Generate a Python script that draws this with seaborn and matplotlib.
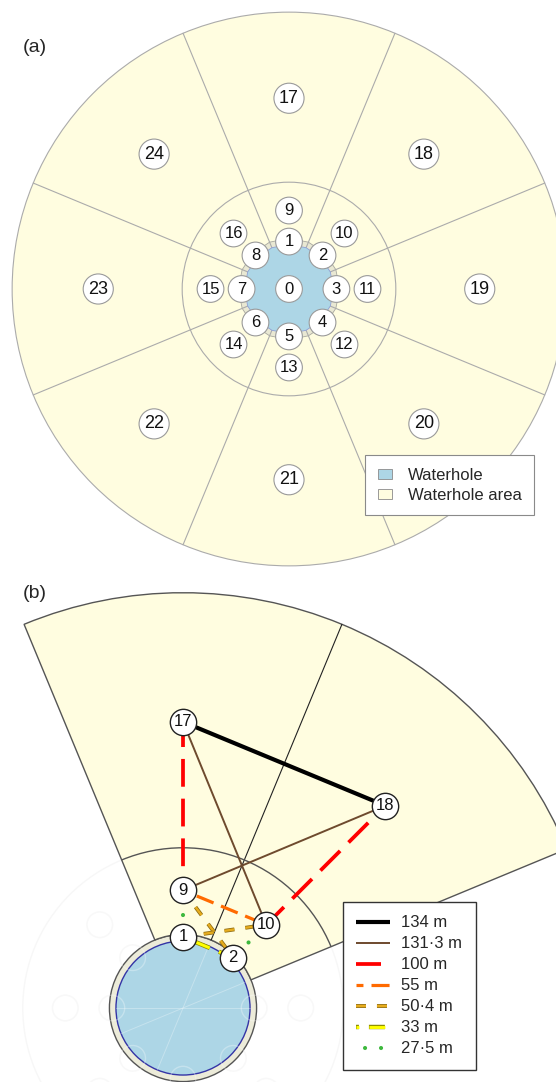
import numpy as np
import pandas as pd
import matplotlib
matplotlib.use("Agg")
import matplotlib.pyplot as plt
import matplotlib.patheffects as pe
from matplotlib.patches import Circle, Wedge, RegularPolygon, Arc, Patch
from matplotlib.lines import Line2D
import seaborn as sns

sns.set_theme(style="white")
plt.rcParams["font.family"] = ["Liberation Sans", "DejaVu Sans"]
plt.rcParams["lines.scale_dashes"] = False

# ---- station layout -------------------------------------------------------
inner_ids = [1, 2, 3, 4, 5, 6, 7, 8]          # on the waterhole bank
middle_ids = [9, 10, 11, 12, 13, 14, 15, 16]  # inner ring of the area
outer_ids = [17, 18, 19, 20, 21, 22, 23, 24]  # outer ring of the area
slot_angles = [90, 45, 0, -45, -90, -135, 180, 135]   # degrees

# radii in metres
R_POOL = 41.0
R_BANK = 45.0
R_INNER = 43.5
R_MIDDLE = 72.0
R_MIDCIRCLE = 98.0
R_OUTER = 175.0
R_AREA = 254.0

# ---- pairwise distances shown in panel (b) --------------------------------
link_from = [17, 17, 9, 17, 10, 9, 9, 1, 1, 9, 10]
link_to = [18, 10, 18, 9, 18, 10, 2, 10, 2, 1, 2]
link_class = ["134 m", "131·3 m", "131·3 m", "100 m", "100 m", "55 m",
              "50·4 m", "50·4 m", "33 m", "27·5 m", "27·5 m"]
distance_labels = ["134 m", "131·3 m", "100 m", "55 m", "50·4 m", "33 m", "27·5 m"]

legend_a_labels = ["Waterhole", "Waterhole area"]

POOL_BLUE = "#ADD6E6"
AREA_YELLOW = "#FFFDE0"
BANK_BEIGE = "#E9E8D3"


def polar(r, deg):
    a = np.deg2rad(deg)
    return r * np.cos(a), r * np.sin(a)


stations = {0: (0.0, 0.0)}
for ids, r in ((inner_ids, R_INNER), (middle_ids, R_MIDDLE), (outer_ids, R_OUTER)):
    for sid, ang in zip(ids, slot_angles):
        stations[sid] = polar(r, ang)
station_df = pd.DataFrame(
    [(k, v[0], v[1]) for k, v in stations.items()], columns=["id", "x", "y"]
)
station_df["ring"] = np.where(station_df["id"] >= 17, "outer", "inner")

# line styles for each distance class (dash lengths in points)
styles = {
    "134 m": dict(color="black", lw=3.0, ls="-", cap="butt", outline=None),
    "131·3 m": dict(color="#6E4A2E", lw=1.4, ls="-", cap="butt", outline=None),
    "100 m": dict(color="#FF0000", lw=2.7, ls=(2.0, (20.0, 8.6)), cap="butt", outline=None),
    "55 m": dict(color="#FF6A00", lw=2.3, ls=(8.0, (13.0, 5.8)), cap="butt", outline=None),
    "50·4 m": dict(color="#E6AC1E", lw=1.7, ls=(0.0, (7.2, 7.9)), cap="butt", outline="#8C6A10"),
    "33 m": dict(color="#FFFF00", lw=2.1, ls=(9.4, (11.5, 7.2)), cap="butt", outline="#8F8F00"),
    "27·5 m": dict(color="#3DB83D", lw=3.0, ls=(5.0, (0.01, 11.5)), cap="round", outline=None),
}


def effects(st):
    if st["outline"] is None:
        return []
    return [pe.Stroke(linewidth=st["lw"] + 1.1, foreground=st["outline"]), pe.Normal()]


W, H = 556, 1082
fig = plt.figure(figsize=(W / 100, H / 100), dpi=100)

# ============================ panel (a) ====================================
ka = 1.09            # pixels per metre
top_h = 578
ax_a = fig.add_axes([0, (H - top_h) / H, 1, top_h / H])
ax_a.set_xlim(-289 / ka, (W - 289) / ka)
ax_a.set_ylim(-(top_h - 289) / ka, 289 / ka)
ax_a.set_axis_off()

grey = "#ABABAB"
ax_a.add_patch(Circle((0, 0), R_AREA, fc=AREA_YELLOW, ec=grey, lw=0.8, zorder=1))
ax_a.add_patch(Circle((0, 0), R_MIDCIRCLE, fc="none", ec=grey, lw=0.8, zorder=2))
for k in range(8):
    ang = 22.5 + 45 * k
    x0, y0 = polar(R_POOL, ang)
    x1, y1 = polar(R_AREA, ang)
    ax_a.plot([x0, x1], [y0, y1], color=grey, lw=0.8, zorder=3.5)
ax_a.add_patch(RegularPolygon((0, 0), 16, radius=R_BANK + 1.5, fc=BANK_BEIGE,
                              ec="#A8A8A0", lw=0.6, zorder=3))
for k in range(16):
    ang = 11.25 + 22.5 * k
    x0, y0 = polar(R_POOL, ang)
    x1, y1 = polar(R_BANK + 1.2, ang)
    ax_a.plot([x0, x1], [y0, y1], color="#C2C2B4", lw=0.5, zorder=3.2)
ax_a.add_patch(RegularPolygon((0, 0), 16, radius=R_POOL, fc=POOL_BLUE,
                              ec="#8E9ED6", lw=0.6, zorder=4))

sns.scatterplot(data=station_df, x="x", y="y", size="ring",
                sizes={"inner": 370, "outer": 470}, color="white",
                edgecolor="#9A9A9A", linewidth=0.8, zorder=6, ax=ax_a, legend=False)
for sid, (x, y) in stations.items():
    ax_a.text(x, y, str(sid), ha="center", va="center",
              fontsize=13 if sid >= 17 else 12, color="#111111", zorder=7)
ax_a.set_xlabel("")
ax_a.set_ylabel("")

leg_a = ax_a.legend(
    handles=[Patch(fc=POOL_BLUE, ec="#8A8A8A", lw=0.6),
             Patch(fc=AREA_YELLOW, ec="#8A8A8A", lw=0.6)],
    labels=legend_a_labels, loc="upper left",
    bbox_to_anchor=(365 / W, 1 - 455 / H), bbox_transform=fig.transFigure,
    fontsize=12, frameon=True, fancybox=False, framealpha=1, edgecolor="#8A8A8A",
    handlelength=0.85, handleheight=0.55, handletextpad=0.95, labelspacing=0.3,
    borderpad=0.75, borderaxespad=0,
)
leg_a.get_frame().set_linewidth(0.8)

fig.text(23 / W, 1 - 47 / H, "(a)", ha="left", va="center", fontsize=14)

# ============================ panel (b) ====================================
kb = 1.635
bot_h = H - top_h
ax_b = fig.add_axes([0, 0, 1, bot_h / H])
cx, cy = 183, 1008
ax_b.set_xlim(-cx / kb, (W - cx) / kb)
ax_b.set_ylim(-(H - cy) / kb, (cy - top_h) / kb)
ax_b.set_axis_off()

# faint remainder of the full layout
ghost_ids = [3, 4, 5, 6, 7, 8, 11, 12, 13, 14, 15, 16]
ghost_df = station_df[station_df["id"].isin(ghost_ids)]
ax_b.add_patch(Circle((0, 0), R_MIDCIRCLE, fc="none", ec="#F7F7F7", lw=1.0, zorder=1))
sns.scatterplot(data=ghost_df, x="x", y="y", s=340, color="none",
                edgecolor="#F6F6F6", linewidth=1.0, zorder=1.5, ax=ax_b, legend=False)

ax_b.add_patch(Circle((0, 0), R_BANK, fc="#ECEBD9", ec="#555555", lw=1.0, zorder=2))
ax_b.add_patch(Circle((0, 0), R_POOL, fc=POOL_BLUE, ec="#3434A6", lw=1.0, zorder=3))
for ang in (67.5, 22.5, 0.0):
    x0, y0 = polar(R_POOL, ang)
    ax_b.plot([x0, -x0], [y0, -y0], color="white", alpha=0.3, lw=0.7, zorder=3.2)
sns.scatterplot(data=ghost_df, x="x", y="y", s=340, color="none",
                edgecolor=(1, 1, 1, 0.3), linewidth=1.0, zorder=3.3, ax=ax_b, legend=False)

ax_b.add_patch(Wedge((0, 0), R_AREA, 22.5, 112.5, width=R_AREA - R_BANK,
                     fc=AREA_YELLOW, ec="#555555", lw=1.0, zorder=2.5))
x0, y0 = polar(R_BANK, 67.5)
x1, y1 = polar(R_AREA, 67.5)
ax_b.plot([x0, x1], [y0, y1], color="#222222", lw=0.8, zorder=2.6)
ax_b.add_patch(Arc((0, 0), 2 * R_MIDCIRCLE, 2 * R_MIDCIRCLE, theta1=22.5,
                   theta2=112.5, color="#555555", lw=1.0, zorder=2.6))

# distance links
order = {lab: i for i, lab in enumerate(distance_labels)}
for a, b, cls in zip(link_from, link_to, link_class):
    st = styles[cls]
    (xa, ya), (xb, yb) = stations[a], stations[b]
    sns.lineplot(x=[xa, xb], y=[ya, yb], sort=False, estimator=None,
                 color=st["color"], linewidth=st["lw"], linestyle=st["ls"],
                 dash_capstyle=st["cap"], solid_capstyle="butt",
                 path_effects=effects(st), zorder=5 + (7 - order[cls]) * 0.1,
                 ax=ax_b)

shown = [1, 2, 9, 10, 17, 18]
shown_df = station_df[station_df["id"].isin(shown)]
sns.scatterplot(data=shown_df, x="x", y="y", s=360, color="white",
                edgecolor="#222222", linewidth=1.0, zorder=10, ax=ax_b, legend=False)
for sid in shown:
    x, y = stations[sid]
    ax_b.text(x, y, str(sid), ha="center", va="center", fontsize=12,
              color="#111111", zorder=11)
ax_b.set_xlabel("")
ax_b.set_ylabel("")

handles_b = []
for lab in distance_labels:
    st = styles[lab]
    handles_b.append(Line2D([], [], color=st["color"], lw=st["lw"], ls=st["ls"],
                            dash_capstyle=st["cap"], solid_capstyle="butt",
                            path_effects=effects(st)))
leg_b = ax_b.legend(
    handles=handles_b, labels=distance_labels, loc="upper left",
    bbox_to_anchor=(343 / W, 1 - 902 / H), bbox_transform=fig.transFigure,
    fontsize=12, frameon=True, fancybox=False, framealpha=1, edgecolor="#333333",
    handlelength=2.0, handletextpad=0.7, labelspacing=0.36, borderpad=0.8,
    borderaxespad=0,
)
leg_b.get_frame().set_linewidth(1.0)
leg_b.set_zorder(20)

fig.text(23 / W, 1 - 594 / H, "(b)", ha="left", va="center", fontsize=14)

fig.savefig("out.png", dpi=100)
